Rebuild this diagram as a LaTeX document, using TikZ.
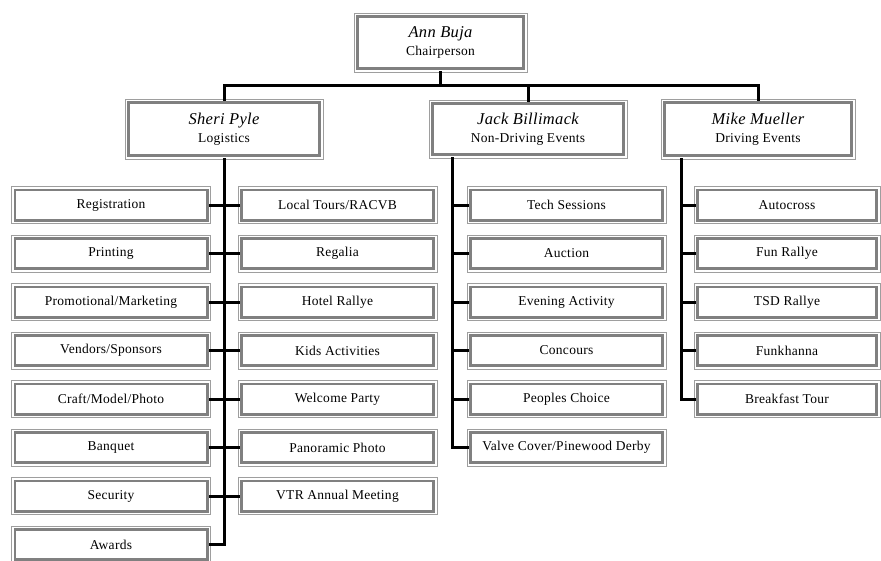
\documentclass[tikz,border=0pt]{standalone}
\usepackage{fontspec}
\setmainfont[LetterSpace=2]{Liberation Serif}
\newcommand\pname[1]{{\fontsize{16.5}{18}\selectfont\itshape #1}}
\begin{document}
\begin{tikzpicture}[x=1pt,y=-1pt,
  frame/.style={draw=black!38, line width=1pt, fill=white, inner sep=0pt, outer sep=0pt,
    font=\fontsize{13.5}{18}\selectfont, align=center,
    path picture={\draw[black!50, line width=2.6pt]
      ([shift={(3.3pt,-3.3pt)}]path picture bounding box.north west) rectangle
      ([shift={(-3.3pt,3.3pt)}]path picture bounding box.south east);}},
  cbox/.style={frame, minimum width=199pt, minimum height=37pt},
  mbox/.style={frame, minimum width=186pt, minimum height=37pt},
  hbox/.style={frame, minimum height=60pt},
  conn/.style={draw=black, line width=3pt, line cap=rect},
]
\useasboundingbox (0,0) rectangle (881,560);
\clip (0,0) rectangle (881,560);

% heads
\node[hbox, minimum width=173pt, minimum height=59pt] (ann) at (440.5,42.5) {\pname{Ann Buja}\\Chairperson};
\node[hbox, minimum width=198pt] (sheri) at (224,129) {\pname{Sheri Pyle}\\Logistics};
\node[hbox, minimum width=198pt, minimum height=58pt] (jack) at (528,129) {\pname{Jack Billimack}\\Non-Driving Events};
\node[hbox, minimum width=194pt] (mike) at (758,129) {\pname{Mike Mueller}\\Driving Events};

% Sheri left column
\node[cbox] (reg) at (111,205) {Registration};
\node[cbox] (pri) at (111,253.5) {Printing};
\node[cbox] (pro) at (111,302) {Promotional/Marketing};
\node[cbox] (ven) at (111,350.5) {Vendors/Sponsors};
\node[cbox] (cra) at (111,399) {Craft/Model/Photo};
\node[cbox] (ban) at (111,447.5) {Banquet};
\node[cbox] (sec) at (111,496) {Security};
\node[cbox] (awa) at (111,544.5) {Awards};
% Sheri right column
\node[cbox] (loc) at (337.5,205) {Local Tours/RACVB};
\node[cbox] (reglia) at (337.5,253.5) {Regalia};
\node[cbox] (hot) at (337.5,302) {Hotel Rallye};
\node[cbox] (kid) at (337.5,350.5) {Kids Activities};
\node[cbox] (wel) at (337.5,399) {Welcome Party};
\node[cbox] (pan) at (337.5,447.5) {Panoramic Photo};
\node[cbox] (vtr) at (337.5,496) {VTR Annual Meeting};
% Jack column
\node[cbox] (tec) at (566.5,205) {Tech Sessions};
\node[cbox] (auc) at (566.5,253.5) {Auction};
\node[cbox] (eve) at (566.5,302) {Evening Activity};
\node[cbox] (con) at (566.5,350.5) {Concours};
\node[cbox] (peo) at (566.5,399) {Peoples Choice};
\node[cbox] (val) at (566.5,447.5) {Valve Cover/Pinewood Derby};
% Mike column
\node[mbox] (aut) at (787,205) {Autocross};
\node[mbox] (fun) at (787,253.5) {Fun Rallye};
\node[mbox] (tsd) at (787,302) {TSD Rallye};
\node[mbox] (fkh) at (787,350.5) {Funkhanna};
\node[mbox] (bre) at (787,399) {Breakfast Tour};

% top connectors
\coordinate (hl) at (0,85);
\draw[conn] (ann.south) -- (ann.south |- hl);
\draw[conn] (sheri.north) -- (sheri.north |- hl) -- (mike.north |- hl) -- (mike.north);
\draw[conn] (jack.north) -- (jack.north |- hl);

% Sheri spine
\draw[conn] (sheri.south) -- (sheri.south |- awa.east) -- (awa.east);
\foreach \n in {reg,pri,pro,ven,cra,ban,sec}
  \draw[conn] (\n.east) -- (\n.east -| sheri.south);
\foreach \n in {loc,reglia,hot,kid,wel,pan,vtr}
  \draw[conn] (\n.west) -- (\n.west -| sheri.south);

% Jack spine
\coordinate (jsp) at (452,0);
\draw[conn] (jack.south -| jsp) -- (jsp |- val.west) -- (val.west);
\foreach \n in {tec,auc,eve,con,peo}
  \draw[conn] (\n.west) -- (\n.west -| jsp);

% Mike spine
\coordinate (msp) at (681,0);
\draw[conn] (mike.south -| msp) -- (msp |- bre.west) -- (bre.west);
\foreach \n in {aut,fun,tsd,fkh}
  \draw[conn] (\n.west) -- (\n.west -| msp);
\end{tikzpicture}
\end{document}
